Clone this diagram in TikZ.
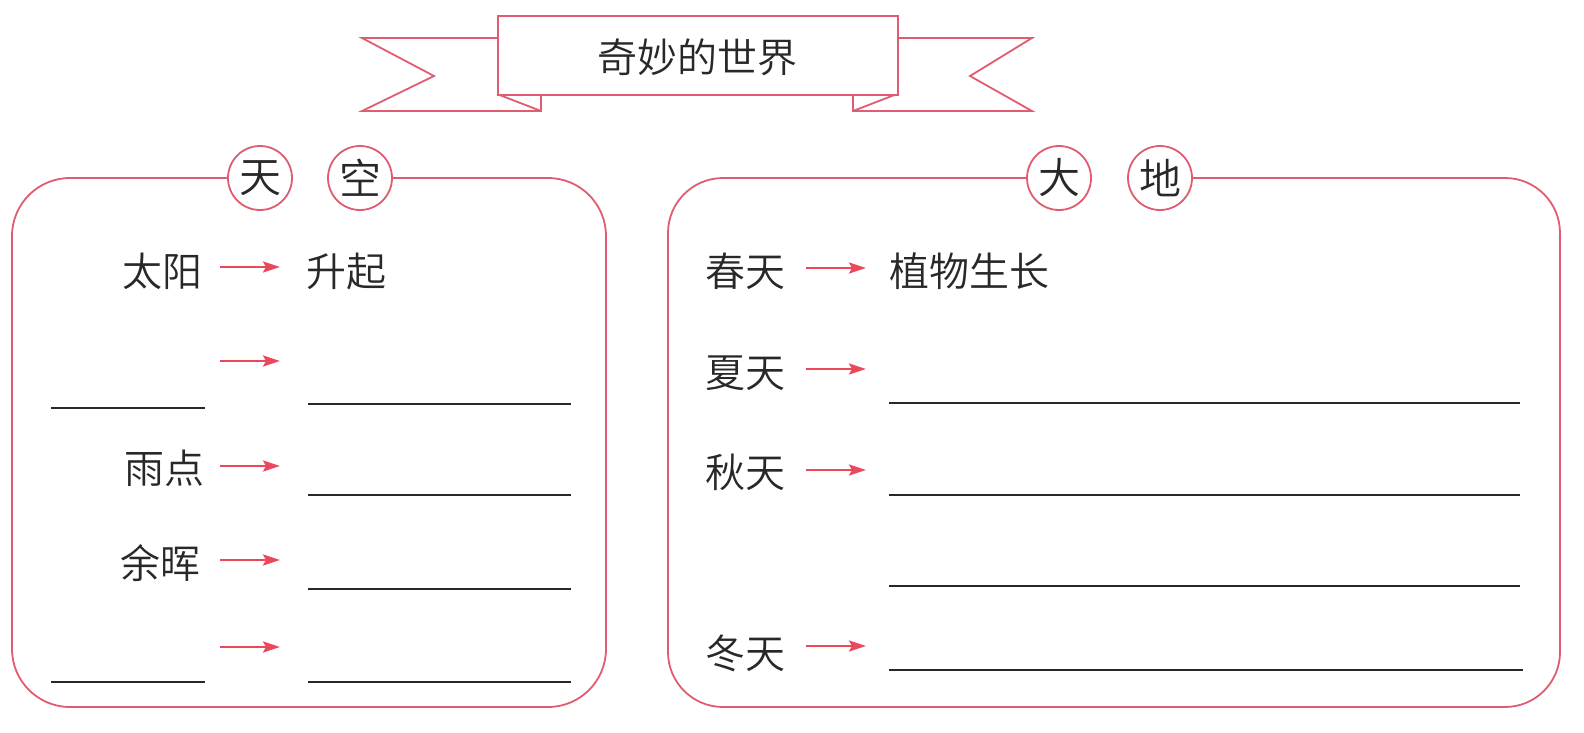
\documentclass[tikz,border=0pt]{standalone}
\usepackage{fontspec}
\newfontfamily\cjk{Noto Sans CJK SC DemiLight}
\usetikzlibrary{arrows.meta}
\definecolor{linecol}{RGB}{224,92,112}
\definecolor{arrcol}{RGB}{236,72,92}
\definecolor{inkcol}{RGB}{40,40,40}
\tikzset{
  boxline/.style={draw=linecol, line width=1.8pt},
  txt/.style={inner sep=0pt, text=inkcol, font=\cjk\fontsize{40pt}{48pt}\selectfont},
  circlab/.style={circle, draw=linecol, line width=1.8pt, fill=white, minimum size=64pt, inner sep=0pt, text=inkcol, font=\cjk\fontsize{42pt}{44pt}\selectfont},
  arr/.style={draw=arrcol, line width=2.4pt, -{Stealth[length=17pt,width=11pt,inset=3pt]}},
  blank/.style={draw=inkcol, line width=1.5pt}
}
\begin{document}
\begin{tikzpicture}[x=1pt,y=-1pt]
\useasboundingbox (0,0) rectangle (1584,732);
% banner tails
\draw[boxline, fill=white, line join=miter] (497,38) -- (362,38) -- (434,76) -- (362,111) -- (541,111) -- (541,94);
\draw[boxline, fill=white, line join=miter] (897,38) -- (1032,38) -- (970,76) -- (1032,111) -- (853,111) -- (853,94);
\draw[boxline] (497,94) -- (541,111);
\draw[boxline] (897,94) -- (853,111);
\node[boxline, fill=white, minimum width=400pt, minimum height=79pt, inner sep=0pt, anchor=north west] (banner) at (497,15) {};
\node[txt] (title) at (697,57) {奇妙的世界};
% circles
\node[circlab] (tian) at (260,178) {天};
\node[circlab] (kong) at (360,178) {空};
\node[circlab] (da) at (1059,178) {大};
\node[circlab] (di) at (1160,178) {地};
% boxes
\draw[boxline, rounded corners=58pt] (tian.west) -- (12,178) -- (12,707) -- (606,707) -- (606,178) -- (kong.east);
\draw[boxline, rounded corners=55pt] (da.west) -- (668,178) -- (668,707) -- (1560,707) -- (1560,178) -- (di.east);
% left content
\node[txt, anchor=east] (taiyang) at (203,271) {太阳};
\node[txt, anchor=west] (shengqi) at (306,271) {升起};
\node[txt, anchor=east] (yudian) at (205,468) {雨点};
\node[txt, anchor=east] (yuhui) at (201,563) {余晖};
\foreach \i/\y in {1/267,2/361,3/466,4/560,5/647}{
  \coordinate (la\i s) at (220,\y);
  \coordinate (la\i e) at (280,\y);
  \draw[arr] (la\i s) -- (la\i e);
}
\foreach \i/\y in {1/404,2/495,3/589,4/682}{
  \coordinate (lr\i s) at (308,\y);
  \coordinate (lr\i e) at (571,\y);
  \draw[blank] (lr\i s) -- (lr\i e);
}
\foreach \i/\y in {1/408,2/682}{
  \coordinate (ll\i s) at (51,\y);
  \coordinate (ll\i e) at (205,\y);
  \draw[blank] (ll\i s) -- (ll\i e);
}
% right content
\node[txt, anchor=west] (chun) at (705,271) {春天};
\node[txt, anchor=west] (zhiwu) at (889,271) {植物生长};
\node[txt, anchor=west] (xia) at (705,373) {夏天};
\node[txt, anchor=west] (qiu) at (705,472) {秋天};
\node[txt, anchor=west] (dong) at (705,653) {冬天};
\foreach \i/\y in {1/268,2/369,3/470,4/646}{
  \coordinate (ra\i s) at (806,\y);
  \coordinate (ra\i e) at (866,\y);
  \draw[arr] (ra\i s) -- (ra\i e);
}
\foreach \i/\y/\xe in {1/403/1520,2/495/1520,3/586/1520,4/670/1523}{
  \coordinate (rr\i s) at (889,\y);
  \coordinate (rr\i e) at (\xe,\y);
  \draw[blank] (rr\i s) -- (rr\i e);
}
\end{tikzpicture}
\end{document}
